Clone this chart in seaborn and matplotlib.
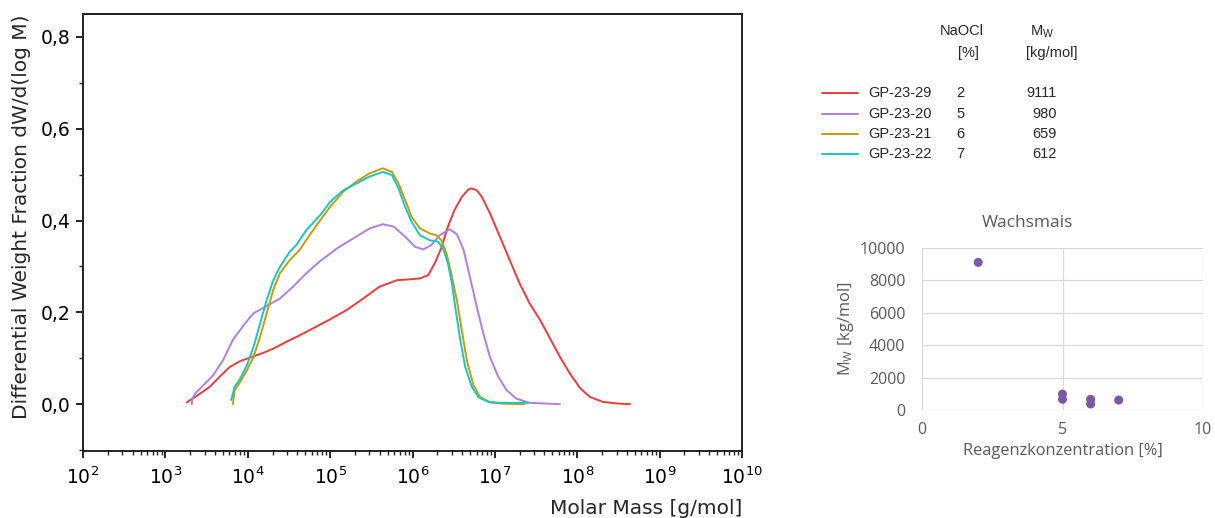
import numpy as np
import pandas as pd
import matplotlib
matplotlib.use("Agg")
import matplotlib.pyplot as plt
import matplotlib.ticker as mticker
from matplotlib.lines import Line2D
import seaborn as sns

# ---------------- data ----------------
samples = ["GP-23-29", "GP-23-20", "GP-23-21", "GP-23-22"]
naocl_pct = [2, 5, 6, 7]
mw_kgmol = [9111, 980, 659, 612]
colors = ["#EE3B3B", "#B07EE0", "#CC9A06", "#14C8C8"]

# log10(M) and dW/dlogM for each sample
red_logm = [3.26, 3.38, 3.54, 3.66, 3.78, 3.91, 4.05, 4.19, 4.31, 4.47, 4.63, 4.79, 5.00, 5.20,
            5.40, 5.60, 5.81, 5.97, 6.09, 6.19, 6.27, 6.35, 6.43, 6.51, 6.60, 6.68, 6.72, 6.78,
            6.84, 6.94, 7.06, 7.18, 7.30, 7.42, 7.55, 7.67, 7.79, 7.91, 8.03, 8.15, 8.31, 8.48, 8.64]
red_w = [0.004, 0.018, 0.038, 0.060, 0.081, 0.094, 0.103, 0.112, 0.121, 0.136, 0.150, 0.165, 0.185,
         0.205, 0.230, 0.256, 0.270, 0.272, 0.274, 0.281, 0.307, 0.340, 0.387, 0.423, 0.452, 0.468,
         0.470, 0.466, 0.452, 0.416, 0.365, 0.314, 0.263, 0.220, 0.183, 0.143, 0.103, 0.067, 0.036,
         0.016, 0.005, 0.0015, 0.0]

purple_logm = [3.32, 3.33, 3.36, 3.46, 3.58, 3.70, 3.82, 3.95, 4.07, 4.23, 4.39, 4.55, 4.71, 4.88,
               5.00, 5.08, 5.28, 5.48, 5.64, 5.77, 5.91, 6.03, 6.13, 6.23, 6.33, 6.45, 6.54, 6.62,
               6.70, 6.78, 6.86, 6.94, 7.04, 7.14, 7.26, 7.42, 7.79]
purple_w = [0.0, 0.012, 0.023, 0.041, 0.063, 0.096, 0.140, 0.172, 0.198, 0.214, 0.230, 0.256, 0.285,
            0.312, 0.328, 0.339, 0.361, 0.383, 0.392, 0.387, 0.365, 0.343, 0.337, 0.347, 0.368, 0.381,
            0.370, 0.336, 0.275, 0.212, 0.154, 0.103, 0.060, 0.031, 0.012, 0.003, 0.0]

orange_logm = [3.82, 3.84, 3.91, 3.99, 4.07, 4.15, 4.23, 4.31, 4.39, 4.51, 4.63, 4.75, 4.88, 5.00,
               5.16, 5.32, 5.48, 5.64, 5.75, 5.83, 5.91, 5.99, 6.09, 6.21, 6.29, 6.35, 6.41, 6.47,
               6.54, 6.60, 6.66, 6.74, 6.82, 6.94, 7.10, 7.36]
orange_w = [0.0, 0.030, 0.049, 0.074, 0.103, 0.147, 0.198, 0.249, 0.285, 0.314, 0.336, 0.368, 0.401,
            0.430, 0.463, 0.485, 0.503, 0.514, 0.506, 0.481, 0.445, 0.408, 0.383, 0.372, 0.368, 0.357,
            0.330, 0.285, 0.225, 0.160, 0.095, 0.041, 0.016, 0.004, 0.001, 0.0]

cyan_logm = [3.80, 3.84, 3.91, 3.99, 4.07, 4.15, 4.23, 4.31, 4.39, 4.51, 4.59, 4.71, 4.88, 5.00,
             5.16, 5.32, 5.48, 5.64, 5.75, 5.83, 5.91, 5.99, 6.09, 6.21, 6.31, 6.37, 6.43, 6.48,
             6.52, 6.58, 6.64, 6.72, 6.80, 6.92, 7.06, 7.40]
cyan_w = [0.009, 0.038, 0.056, 0.085, 0.125, 0.176, 0.227, 0.270, 0.299, 0.332, 0.347, 0.379, 0.412,
          0.441, 0.466, 0.481, 0.496, 0.506, 0.499, 0.470, 0.430, 0.397, 0.368, 0.357, 0.354, 0.339,
          0.307, 0.262, 0.210, 0.140, 0.081, 0.038, 0.015, 0.005, 0.003, 0.003]

# inset scatter
reagent_conc = [2, 5, 5, 6, 6, 7]
reagent_mw = [9111, 980, 660, 659, 370, 612]

# ---------------- style ----------------
sns.set_theme(style="ticks")
plt.rcParams["font.family"] = ["Liberation Sans", "DejaVu Sans"]
plt.rcParams["mathtext.fontset"] = "dejavusans"

W, H = 1215, 518
fig = plt.figure(figsize=(W / 100, H / 100), dpi=100)

def frect(x0, y0, x1, y1):
    return [x0 / W, 1 - y1 / H, (x1 - x0) / W, (y1 - y0) / H]

# ---------------- main axes ----------------
ax = fig.add_axes(frect(83, 14, 742, 451))
frames = []
for s, lm, w in zip(samples, [red_logm, purple_logm, orange_logm, cyan_logm],
                    [red_w, purple_w, orange_w, cyan_w]):
    frames.append(pd.DataFrame({"M": 10 ** np.asarray(lm), "w": w, "sample": s}))
df = pd.concat(frames, ignore_index=True)
sns.lineplot(data=df, x="M", y="w", hue="sample", palette=dict(zip(samples, colors)),
             sort=False, estimator=None, linewidth=1.4, legend=False, ax=ax)
for ln in ax.get_lines():
    ln.set_solid_joinstyle("round")
    ln.set_solid_capstyle("round")
ax.set_xscale("log")
ax.set_xlim(1e2, 1e10)
ax.set_ylim(-0.102, 0.85)
ax.set_xticks([10 ** k for k in range(2, 11)])
ax.xaxis.set_major_formatter(mticker.FuncFormatter(lambda v, p: r"$10^{%d}$" % round(np.log10(v))))
ax.xaxis.set_minor_locator(mticker.LogLocator(base=10, subs=np.arange(2, 10), numticks=100))
ax.xaxis.set_minor_formatter(mticker.NullFormatter())
ax.set_yticks([0.0, 0.2, 0.4, 0.6, 0.8])
ax.yaxis.set_major_formatter(mticker.FuncFormatter(lambda v, p: ("%.1f" % v).replace(".", ",")))
ax.yaxis.set_minor_locator(mticker.MultipleLocator(0.1))
ax.tick_params(axis="both", which="major", direction="out", length=5, width=1.2,
               labelsize=13.5, colors="black", pad=4, labelfontfamily="DejaVu Sans")
ax.tick_params(axis="both", which="minor", direction="out", length=3, width=1.0)
ax.tick_params(axis="x", which="major", pad=6)
for sp in ax.spines.values():
    sp.set_linewidth(1.4)
    sp.set_color("#222222")
ax.set_xlabel("")
ax.set_ylabel("")
fig.text(22 / W, 1 - 217 / H, "Differential Weight Fraction dW/d(log M)", rotation=90,
         ha="center", va="center", fontsize=14.5, family="DejaVu Sans")
fig.text(742 / W, 1 - 508 / H, "Molar Mass [g/mol]", ha="right", va="center", fontsize=14.5,
         family="DejaVu Sans")

# ---------------- legend table ----------------
fs = 10.5
fig.text(962 / W, 1 - 31 / H, "NaOCl", ha="center", va="center", fontsize=fs)
fig.text(968 / W, 1 - 53 / H, "[%]", ha="center", va="center", fontsize=fs)
fig.text(1043 / W, 1 - 31 / H, "M", ha="right", va="center", fontsize=fs)
fig.text(1043 / W, 1 - 34 / H, "W", ha="left", va="center", fontsize=7.5)
fig.text(1052 / W, 1 - 53 / H, "[kg/mol]", ha="center", va="center", fontsize=fs)
row_y = [93, 114, 134, 154]
for s, c, n, m, yy in zip(samples, colors, naocl_pct, mw_kgmol, row_y):
    fig.add_artist(Line2D([822 / W, 858 / W], [1 - yy / H, 1 - yy / H], color=c, lw=1.4,
                          transform=fig.transFigure))
    fig.text(868 / W, 1 - yy / H, s, ha="left", va="center", fontsize=fs)
    fig.text(956 / W, 1 - yy / H, str(n), ha="left", va="center", fontsize=fs)
    fig.text(1057 / W, 1 - yy / H, str(m), ha="right", va="center", fontsize=fs)

# ---------------- inset scatter ----------------
grey = "#595959"
ax2 = fig.add_axes(frect(922, 248, 1203, 410))
sns.scatterplot(x=reagent_conc, y=reagent_mw, color="#7B58A6", s=42, edgecolor="none",
                ax=ax2, zorder=3, clip_on=False)
ax2.set_xlim(0, 10)
ax2.set_ylim(0, 10000)
ax2.set_xticks([0, 5, 10])
ax2.set_yticks([0, 2000, 4000, 6000, 8000, 10000])
ax2.grid(True, color="#D9D9D9", linewidth=0.9)
ax2.set_axisbelow(True)
for sp in ax2.spines.values():
    sp.set_visible(False)
ax2.tick_params(axis="both", length=0, labelsize=11.5, colors=grey,
                labelfontfamily="Open Sans")
ax2.tick_params(axis="y", pad=12)
ax2.tick_params(axis="x", pad=9)
ax2.set_xlabel("Reagenzkonzentration [%]", fontsize=11.8, color=grey, family="Open Sans", labelpad=3)
ax2.set_ylabel("M$_{\\mathregular{W}}$ [kg/mol]", fontsize=11.8, color=grey, family="Open Sans",
               labelpad=3)
fig.text(1027 / W, 1 - 223 / H, "Wachsmais", ha="center", va="center", fontsize=12.5,
         color=grey, family="Open Sans")

fig.savefig("out.png", dpi=100)
